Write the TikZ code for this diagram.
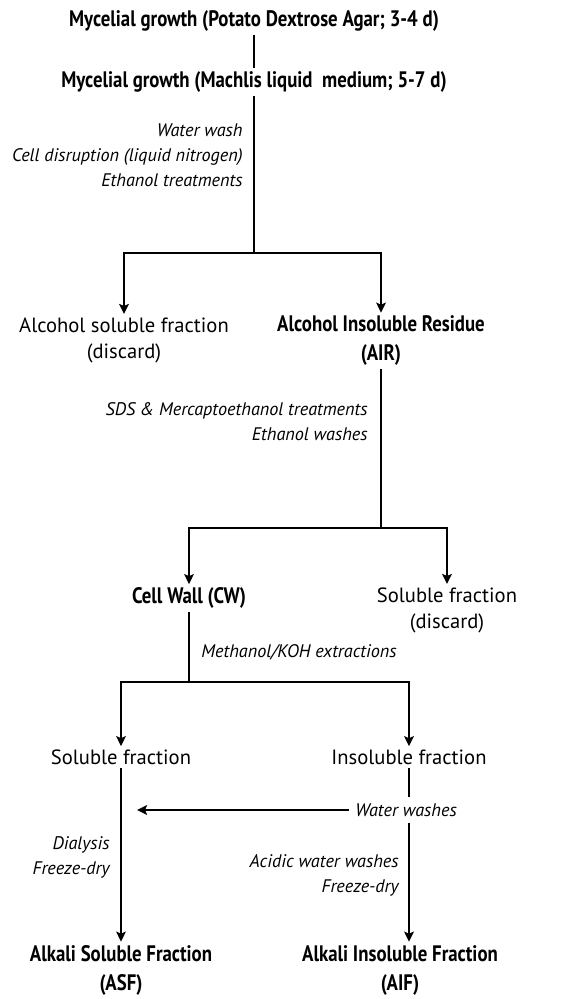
\documentclass[tikz,border=0pt]{standalone}
\usepackage{fontspec}
\setmainfont{PT Sans}[BoldFeatures={FakeStretch=0.84}]
\usetikzlibrary{arrows.meta, positioning}
\tikzset{
    stage/.style={align=center, inner sep=1.5pt, font=\fontsize{10.3}{13}\selectfont},
    keystage/.style={stage, font=\fontsize{11.2}{14.5}\selectfont\bfseries},
    treat/.style={align=right, inner sep=1pt, font=\fontsize{9.1}{12.5}\selectfont\itshape},
    arr/.style={-{Stealth[length=5pt, width=4.8pt, inset=1pt]}, line width=1pt},
    link/.style={line width=1pt},
}
\begin{document}
\begin{tikzpicture}[x=0.5pt, y=-0.5pt]
\useasboundingbox (0,0) rectangle (570,999);

% ── Growth ──
\node[keystage] (m1) at (254, 21) {Mycelial growth (Potato Dextrose Agar; 3-4 d)};
\node[keystage] (m2) at (254, 82) {Mycelial growth (Machlis liquid\ \ medium; 5-7 d)};
\node[treat, anchor=east] (t1) at (245, 155) {Water wash\\Cell disruption (liquid nitrogen)\\Ethanol treatments};
\coordinate (b1) at (254, 253);

\draw[link] (m1) -- (m2);
\draw[link] (m2) -- (b1);

% ── Alcohol extraction ──
\node[stage] (alcsol) at (124, 340) {Alcohol soluble fraction\\(discard)};
\node[keystage] (air) at (381, 341) {Alcohol Insoluble Residue\\(AIR)};
\node[treat, anchor=east] (t2) at (370, 422) {SDS \& Mercaptoethanol treatments\\Ethanol washes};
\coordinate (b2) at (381, 528);

\draw[arr] (b1) -| (alcsol);
\draw[arr] (b1) -| (air);
\draw[link] (air) -- (b2);

% ── Cell wall ──
\node[keystage] (cw) at (189, 598) {Cell Wall (CW)};
\node[stage] (solfr) at (447, 610) {Soluble fraction\\(discard)};
\node[treat, anchor=west] (t3) at (199, 652) {Methanol/KOH extractions};
\coordinate (b3) at (189, 682);

\draw[arr] (b2) -| (cw);
\draw[arr] (b2) -| (solfr);
\draw[link] (cw) -- (b3);

% ── Alkali extraction ──
\node[stage] (sol) at (121, 757) {Soluble fraction};
\node[stage] (insol) at (409, 757) {Insoluble fraction};
\node[treat, inner sep=3pt] (ww) at (406, 810) {Water washes};
\coordinate (wwend) at (137, 810);
\node[treat, anchor=east] (t4) at (112, 857) {Dialysis\\Freeze-dry};
\node[treat, anchor=east] (t5) at (401, 875) {Acidic water washes\\Freeze-dry};
\node[keystage] (asf) at (121, 970) {Alkali Soluble Fraction\\(ASF)};
\node[keystage] (aif) at (400, 970) {Alkali Insoluble Fraction\\(AIF)};

\draw[arr] (b3) -| (sol);
\draw[arr] (b3) -| (insol);
\draw[arr] (sol) -- (asf);
\draw[link] (insol) -- (insol |- ww.north);
\draw[arr] (insol |- ww.south) -- (insol |- aif.north);
\draw[arr] (ww) -- (wwend);

\end{tikzpicture}
\end{document}
